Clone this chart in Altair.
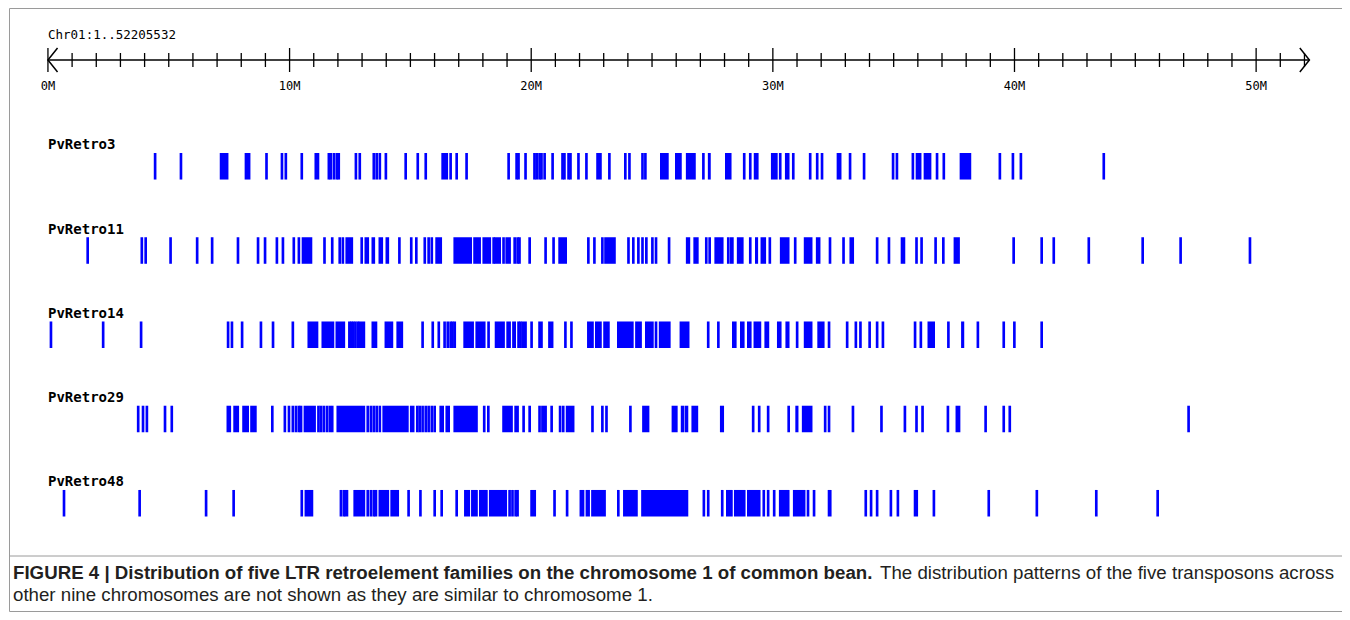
import altair as alt
import pandas as pd

# ---------------- data (positions in Mb) ----------------
chrom_label = "Chr01:1..52205532"
chrom_len = 52.205532
minor_ticks = list(range(0, 53))
major_ticks = [0, 10, 20, 30, 40, 50]
major_labels = ["0M", "10M", "20M", "30M", "40M", "50M"]

tracks = ["PvRetro3", "PvRetro11", "PvRetro14", "PvRetro29", "PvRetro48"]

retro3 = [
    (4.38, 4.38), (5.45, 5.45), (7.11, 7.44), (8.14, 8.35), (8.99, 8.99), (9.63, 9.63), (9.79, 9.79),
    (10.45, 10.45), (11.03, 11.20), (11.57, 11.57), (11.65, 11.65), (11.78, 11.78), (11.90, 11.90),
    (11.98, 11.98), (12.69, 12.69), (12.85, 12.85), (13.43, 13.43), (13.55, 13.55), (13.68, 13.68),
    (13.93, 14.01), (14.75, 14.75), (15.25, 15.25), (15.58, 15.58), (16.28, 16.53), (16.61, 16.69),
    (16.86, 16.86), (17.27, 17.27), (19.01, 19.09), (19.34, 19.34), (19.42, 19.42), (19.71, 19.71),
    (20.08, 20.08), (20.17, 20.17), (20.29, 20.29), (20.37, 20.37), (20.50, 20.50), (20.83, 20.91),
    (21.24, 21.24), (21.32, 21.32), (21.49, 21.49), (21.57, 21.57), (21.90, 21.90), (22.23, 22.23),
    (22.69, 22.89), (23.18, 23.18), (23.84, 23.84), (24.01, 24.01), (24.55, 24.55), (24.67, 24.67),
    (25.33, 25.66), (25.95, 26.20), (26.40, 26.78), (27.07, 27.07), (27.31, 27.40), (28.02, 28.26),
    (28.76, 28.76), (29.01, 29.01), (29.21, 29.38), (29.92, 30.17), (30.25, 30.25), (30.50, 30.66),
    (30.79, 30.79), (31.49, 31.49), (31.78, 31.78), (31.98, 31.98), (32.64, 32.81), (33.14, 33.14),
    (33.72, 33.72), (34.92, 34.92), (35.08, 35.08), (35.74, 35.74), (35.91, 36.12), (36.24, 36.53),
    (36.74, 36.74), (37.02, 37.02), (37.73, 38.18), (39.34, 39.34), (39.88, 39.88), (40.21, 40.21),
    (43.64, 43.64),
]

retro11 = [
    (1.59, 1.59), (3.83, 3.83), (3.99, 3.99), (5.02, 5.02), (6.12, 6.12), (6.74, 6.74), (7.81, 7.81),
    (8.64, 8.64), (8.93, 8.93), (9.42, 9.42), (9.67, 9.67), (10.12, 10.12), (10.33, 10.33), (10.50, 10.91),
    (11.39, 11.39), (11.71, 11.71), (12.02, 12.02), (12.15, 12.15), (12.31, 12.60), (12.93, 12.93),
    (13.10, 13.26), (13.39, 13.51), (13.68, 13.84), (13.97, 14.09), (14.49, 14.49), (14.98, 14.98),
    (15.19, 15.19), (15.54, 15.54), (15.70, 15.70), (15.83, 15.83), (16.03, 16.28), (16.78, 17.52),
    (17.60, 17.89), (17.98, 18.31), (18.39, 18.39), (18.47, 18.72), (18.80, 18.80), (18.93, 19.13),
    (19.26, 19.26), (19.38, 19.38), (19.46, 19.46), (19.88, 19.88), (20.54, 20.54), (20.87, 20.87),
    (21.12, 21.45), (22.31, 22.31), (22.56, 22.56), (22.89, 22.89), (23.02, 23.47), (23.97, 23.97),
    (24.17, 24.17), (24.38, 24.38), (24.55, 24.55), (24.71, 24.71), (24.96, 24.96), (25.11, 25.11),
    (25.65, 25.65), (26.40, 26.55), (26.71, 26.90), (27.19, 27.19), (27.33, 27.33), (27.58, 27.93),
    (28.10, 28.10), (28.22, 28.35), (28.51, 28.76), (29.01, 29.01), (29.26, 29.36), (29.49, 29.69),
    (29.82, 29.82), (30.29, 30.66), (30.87, 30.87), (31.28, 31.61), (31.78, 31.94), (32.31, 32.31),
    (32.87, 32.87), (33.17, 33.33), (34.26, 34.26), (34.75, 34.75), (35.29, 35.45), (35.89, 35.89),
    (36.10, 36.10), (36.68, 36.68), (37.00, 37.00), (37.48, 37.71), (39.91, 39.91), (41.07, 41.07),
    (41.57, 41.57), (43.02, 43.02), (45.25, 45.25), (46.82, 46.82), (49.69, 49.69),
]

retro14 = [
    (0.07, 0.07), (2.23, 2.23), (3.80, 3.80), (7.40, 7.40), (7.56, 7.56), (7.98, 7.98), (8.76, 8.76),
    (9.26, 9.26), (10.08, 10.08), (10.74, 11.16), (11.32, 11.82), (11.90, 12.27), (12.42, 12.42),
    (12.50, 12.50), (12.58, 12.58), (12.67, 12.67), (12.77, 12.77), (12.85, 13.10), (13.39, 13.60),
    (13.93, 14.26), (14.42, 14.67), (15.45, 15.45), (15.87, 15.87), (16.12, 16.12), (16.36, 16.36),
    (16.49, 16.49), (16.61, 16.61), (16.69, 16.69), (16.78, 16.78), (17.19, 17.60), (17.69, 18.08),
    (18.18, 18.18), (18.49, 18.88), (18.97, 19.13), (19.21, 19.34), (19.42, 19.42), (19.50, 19.50),
    (19.59, 19.79), (19.96, 19.96), (20.29, 20.45), (20.70, 20.89), (21.36, 21.36), (21.61, 21.61),
    (22.31, 22.56), (22.64, 22.89), (22.98, 23.22), (23.55, 24.21), (24.30, 24.55), (24.71, 25.04),
    (25.11, 25.11), (25.28, 25.74), (26.14, 26.52), (27.27, 27.27), (27.69, 27.69), (28.31, 28.47),
    (28.64, 28.80), (28.93, 29.09), (29.20, 29.49), (29.65, 29.82), (30.17, 30.33), (30.52, 30.66),
    (30.95, 30.95), (31.28, 31.61), (31.84, 32.11), (32.27, 32.27), (33.02, 33.02), (33.38, 33.38),
    (33.57, 33.57), (33.95, 33.95), (34.26, 34.26), (34.50, 34.50), (35.83, 35.83), (36.07, 36.07),
    (36.40, 36.68), (37.21, 37.21), (37.79, 37.89), (38.43, 38.43), (39.50, 39.50), (39.94, 39.94),
    (41.07, 41.07),
]

retro29 = [
    (3.68, 3.68), (3.88, 3.88), (4.04, 4.04), (4.79, 4.79), (5.07, 5.07), (7.39, 7.55), (7.67, 7.88),
    (8.04, 8.29), (8.37, 8.61), (9.23, 9.23), (9.75, 9.75), (9.92, 9.92), (10.08, 10.08), (10.21, 10.21),
    (10.33, 10.33), (10.41, 10.50), (10.58, 11.06), (11.14, 11.14), (11.24, 11.24), (11.36, 11.36),
    (11.49, 11.49), (11.61, 11.61), (11.71, 11.71), (11.94, 13.10), (13.18, 13.18), (13.31, 13.31),
    (13.43, 13.43), (13.55, 13.55), (13.68, 13.76), (13.84, 14.90), (14.98, 15.14), (15.23, 15.23),
    (15.33, 15.33), (15.45, 15.45), (15.58, 15.58), (15.70, 15.70), (15.83, 15.83), (15.95, 16.03),
    (16.20, 16.36), (16.45, 16.61), (16.78, 17.76), (18.00, 18.00), (18.17, 18.17), (18.80, 19.21),
    (19.30, 19.46), (19.63, 19.63), (19.88, 19.88), (20.29, 20.29), (20.41, 20.62), (20.79, 20.79),
    (21.14, 21.14), (21.27, 21.27), (21.43, 21.76), (22.48, 22.48), (22.89, 22.89), (23.06, 23.06),
    (24.05, 24.05), (24.59, 24.86), (25.81, 26.03), (26.19, 26.31), (26.36, 26.47), (26.63, 26.88),
    (27.81, 27.95), (29.13, 29.13), (29.38, 29.38), (29.75, 29.75), (30.60, 30.60), (30.93, 31.03),
    (31.20, 31.61), (32.11, 32.11), (32.27, 32.27), (33.26, 33.26), (34.44, 34.44), (35.41, 35.41),
    (35.89, 35.89), (36.14, 36.14), (37.19, 37.19), (37.56, 37.73), (38.75, 38.75), (39.50, 39.50),
    (39.75, 39.75), (47.15, 47.15),
]

retro48 = [
    (0.61, 0.61), (3.74, 3.74), (6.49, 6.49), (7.63, 7.63), (10.45, 10.45), (10.62, 10.95),
    (12.07, 12.07), (12.19, 12.19), (12.27, 12.40), (12.64, 13.10), (13.18, 13.18), (13.31, 13.31),
    (13.43, 13.43), (13.51, 13.60), (13.68, 14.09), (14.17, 14.50), (14.87, 14.87), (15.36, 15.36),
    (15.95, 15.95), (16.24, 16.24), (16.86, 16.86), (17.22, 17.44), (17.51, 17.76), (17.84, 18.17),
    (18.25, 18.97), (19.05, 19.05), (19.17, 19.17), (19.30, 19.30), (19.38, 19.46), (19.96, 20.17),
    (20.91, 20.91), (21.43, 21.43), (22.00, 22.17), (22.25, 22.40), (22.48, 23.06), (23.55, 23.55),
    (23.80, 24.38), (24.55, 26.47), (27.09, 27.09), (27.27, 27.27), (27.85, 27.85), (28.06, 28.31),
    (28.39, 28.84), (28.93, 29.46), (29.57, 29.57), (29.75, 29.75), (30.00, 30.00), (30.25, 30.66),
    (30.83, 31.32), (31.40, 31.40), (31.65, 31.65), (32.27, 32.40), (33.79, 33.79), (34.01, 34.01),
    (34.26, 34.26), (34.83, 34.83), (35.12, 35.12), (35.83, 35.98), (36.61, 36.61), (38.88, 38.88),
    (40.87, 40.87), (43.33, 43.33), (45.87, 45.87),
]

caption_bold = ("FIGURE 4 | Distribution of five LTR retroelement families on the chromosome 1 "
                "of common bean.")
caption_rest1 = "The distribution patterns of the five transposons across"
caption_line2 = "other nine chromosomes are not shown as they are similar to chromosome 1."

# ---------------- tables ----------------
rows = []
for name, feats in zip(tracks, [retro3, retro11, retro14, retro29, retro48]):
    for s, e in feats:
        rows.append({"track": name, "start": s, "end": max(e + 0.03, s + 0.11)})
bars_df = pd.DataFrame(rows)
labels_df = pd.DataFrame({"track": tracks})
minor_df = pd.DataFrame({"t": [t for t in minor_ticks if t not in major_ticks]})
major_df = pd.DataFrame({"t": major_ticks, "label": major_labels})
line_df = pd.DataFrame({"s": [0.0], "e": [chrom_len]})

W, H = 1334, 604
AXIS_Y = 52
xs = alt.Scale(domain=[-39 / 24.2, -39 / 24.2 + W / 24.2], nice=False, zero=False)
ys = alt.Scale(domain=tracks, range=[145, 508.5], paddingInner=0.685, paddingOuter=0)
MONO = "DejaVu Sans Mono"
CAP_FS = 18.7

frame = alt.Chart(line_df).mark_rect(fill=None, stroke="#9a9a9a", strokeWidth=1).encode(
    x=alt.value(0.5), x2=alt.value(W - 0.5), y=alt.value(0.5), y2=alt.value(H - 0.5))
sep = alt.Chart(line_df).mark_rule(color="#9a9a9a", strokeWidth=1).encode(
    x=alt.value(0), x2=alt.value(W), y=alt.value(548))

axis_line = alt.Chart(line_df).mark_rule(color="black", strokeWidth=1.5).encode(
    x=alt.X("s:Q", scale=xs, axis=None), x2="e:Q", y=alt.value(AXIS_Y))
minor = alt.Chart(minor_df).mark_rule(color="black", strokeWidth=1.3).encode(
    x=alt.X("t:Q", scale=xs, axis=None), y=alt.value(AXIS_Y - 7), y2=alt.value(AXIS_Y + 7))
major = alt.Chart(major_df).mark_rule(color="black", strokeWidth=1.3).encode(
    x=alt.X("t:Q", scale=xs, axis=None), y=alt.value(AXIS_Y - 12), y2=alt.value(AXIS_Y + 12))
major_text = alt.Chart(major_df).mark_text(font=MONO, fontSize=12, baseline="middle",
                                           align="center", color="black").encode(
    x=alt.X("t:Q", scale=xs, axis=None), y=alt.value(78), text="label:N")
left_arrow = alt.Chart(line_df).mark_point(
    shape="M 0.8 -1 L 0 0 L 0.8 1", size=576, filled=False, color="black", strokeWidth=1.5,
    opacity=1).encode(x=alt.X("s:Q", scale=xs, axis=None), y=alt.value(AXIS_Y))
right_arrow = alt.Chart(line_df).mark_point(
    shape="M -0.8 -1 L 0 0 L -0.8 1", size=576, filled=False, color="black", strokeWidth=1.5,
    opacity=1).encode(x=alt.X("e:Q", scale=xs, axis=None), y=alt.value(AXIS_Y))
chrom_text = alt.Chart(line_df).mark_text(font=MONO, fontSize=12.5, align="left",
                                          baseline="middle", color="black",
                                          text=chrom_label).encode(
    x=alt.value(39), y=alt.value(27))

bars = alt.Chart(bars_df).mark_rect(color="#0000ff").encode(
    x=alt.X("start:Q", scale=xs, axis=None), x2="end:Q",
    y=alt.Y("track:N", scale=ys, axis=None))
labels = alt.Chart(labels_df).mark_text(font=MONO, fontWeight="bold", fontSize=14, align="left",
                                        baseline="middle", dy=-21, color="black").encode(
    x=alt.value(39), y=alt.Y("track:N", scale=ys, axis=None), text="track:N")

cap1 = alt.Chart(line_df).mark_text(font="Liberation Sans", fontWeight="bold", fontSize=CAP_FS,
                                    align="left", baseline="middle", color="#231f20",
                                    text=caption_bold).encode(x=alt.value(4), y=alt.value(565))
cap2 = alt.Chart(line_df).mark_text(font="Liberation Sans", fontSize=CAP_FS, align="right",
                                    baseline="middle", color="#231f20",
                                    text=caption_rest1).encode(x=alt.value(1325), y=alt.value(565))
cap3 = alt.Chart(line_df).mark_text(font="Liberation Sans", fontSize=CAP_FS, align="left",
                                    baseline="middle", color="#231f20",
                                    text=caption_line2).encode(x=alt.value(4), y=alt.value(587))

chart = alt.layer(
    frame, sep, axis_line, minor, major, major_text, left_arrow, right_arrow, chrom_text,
    bars, labels, cap1, cap2, cap3
).properties(
    width=W, height=H, padding=0,
    autosize=alt.AutoSizeParams(type="fit", contains="padding"),
).configure_view(stroke=None)

chart.save("out.html", embed_options={"renderer": "svg", "actions": False})
